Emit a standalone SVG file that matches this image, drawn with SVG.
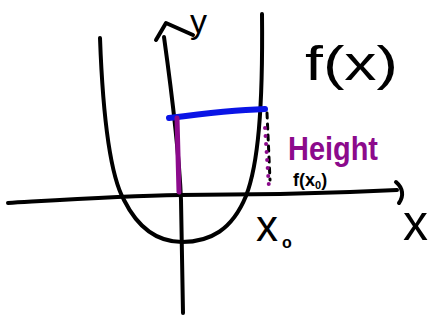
<svg xmlns="http://www.w3.org/2000/svg" width="433" height="320" viewBox="0 0 433 320">
<style>
.ink{fill:none;stroke:#000;stroke-width:4;stroke-linecap:round;stroke-linejoin:round}
.t{font-family:"Liberation Sans",Arial,sans-serif;fill:#000}
</style>
<rect width="433" height="320" fill="#fff"/>
<g id="connectors">
<path id="x-axis" class="ink" d="M8,203 C60,200 120,196 180,195 L280,194 L350,192 L397,190"/>
<path id="x-arrow" class="ink" d="M396,182 C403,188 404,196 399,203"/>
<path id="y-axis" class="ink" d="M183,313 L181,200 C179,150 170,80 164,37"/>
<path id="y-arrow" class="ink" d="M156,40 L166,23 L193,35"/>
</g>
<g id="curve">
<path class="ink" d="M100,38 C103,120 110,175 124,200 C138,228 158,242 182,242 C210,242 232,230 246,196 C258,165 263,110 262,14"/>
</g>
<g id="height-lines">
<path d="M169,118 C200,114 235,110 265,109" fill="none" stroke="#0a14e6" stroke-width="6" stroke-linecap="round"/>
<path d="M177,118 L179,192" fill="none" stroke="#8c0a8c" stroke-width="5" stroke-linecap="round"/>
<path d="M267,113 L270,180" fill="none" stroke="#000" stroke-width="3" stroke-dasharray="5 6" stroke-linecap="round"/>
<path d="M265,128 L269,188" fill="none" stroke="#8c0a8c" stroke-width="4" stroke-dasharray="0 8" stroke-linecap="round"/>
</g>
<g id="labels">
<text class="t" x="190" y="33" font-size="34">y</text>
<text class="t" x="305" y="80" font-size="48" textLength="93" lengthAdjust="spacingAndGlyphs">f(x)</text>
<text x="288" y="160" font-family="Liberation Sans,Arial,sans-serif" font-size="34" font-weight="bold" fill="#8c0a8c" textLength="90" lengthAdjust="spacingAndGlyphs">Height</text>
<text class="t" x="293" y="186" font-size="18" font-weight="bold">f(x<tspan font-size="11" dy="3">0</tspan><tspan dy="-3">)</tspan></text>
<text class="t" x="256" y="241" font-size="44">x<tspan font-size="16" dy="7" dx="4" font-weight="bold">o</tspan></text>
<text class="t" x="403" y="240" font-size="50">x</text>
</g>
</svg>
